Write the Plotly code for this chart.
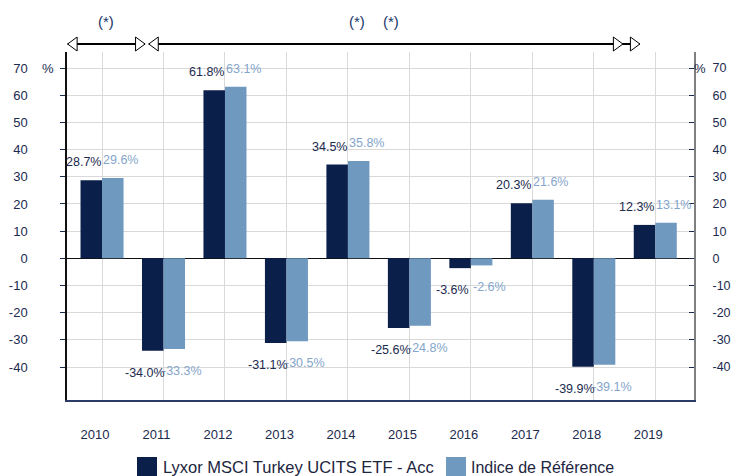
import plotly.graph_objects as go

years = [2010, 2011, 2012, 2013, 2014, 2015, 2016, 2017, 2018, 2019]
fund = [28.7, -34.0, 61.8, -31.1, 34.5, -25.6, -3.6, 20.3, -39.9, 12.3]
index_ref = [29.6, -33.3, 63.1, -30.5, 35.8, -24.8, -2.6, 21.6, -39.1, 13.1]
ytick_vals = [-40, -30, -20, -10, 0, 10, 20, 30, 40, 50, 60, 70]
fund_name = "Lyxor MSCI Turkey UCITS ETF - Acc"
index_name = "Indice de Référence"
star_marks = [2010.07, 2014.15, 2014.70]
# periods shown by arrows on top (start, end) in year units
periods = [(2009.44, 2010.70), (2010.76, 2018.75)]

DARK = "#0b1f4b"
LIGHT = "#7099c0"
DARK_TXT = "#1b2a4e"
LIGHT_TXT = "#84a5cb"
FONT = "Liberation Sans, Arial, sans-serif"

W, H = 734, 476
ML, MR, MT, MB = 67, 40, 52, 76
PW, PH = W - ML - MR, H - MT - MB


def px_x(px):
    return (px - ML) / PW


def px_y(py):
    return (H - MB - py) / PH


fig = go.Figure()
fig.add_trace(go.Bar(x=years, y=fund, name=fund_name, marker=dict(color=DARK, line=dict(width=0)),
                     showlegend=False))
fig.add_trace(go.Bar(x=years, y=index_ref, name=index_name, marker=dict(color=LIGHT, line=dict(width=0)),
                     showlegend=False))
# invisible trace so the right axis is drawn
fig.add_trace(go.Scatter(x=[years[0]], y=[0], yaxis="y2", mode="markers",
                         marker=dict(opacity=0), showlegend=False, hoverinfo="skip"))

annotations = []
# value labels: light first, dark on top
for vals, color, shift in [(index_ref, LIGHT_TXT, 18.5), (fund, DARK_TXT, -18.5)]:
    for yr, v in zip(years, vals):
        annotations.append(dict(
            x=yr, y=v, xref="x", yref="y", text=f"{v:.1f}%", showarrow=False,
            xanchor="center", yanchor="bottom" if v >= 0 else "top",
            xshift=shift, yshift=9 if v >= 0 else -13,
            font=dict(family=FONT, size=12.5, color=color)))

# % markers on axes
annotations.append(dict(x=px_x(47.5), y=70, xref="paper", yref="y", text="%", showarrow=False,
                        xanchor="center", yanchor="middle", font=dict(family=FONT, size=13, color=DARK_TXT)))
annotations.append(dict(x=px_x(700), y=70, xref="paper", yref="y", text="%", showarrow=False,
                        xanchor="center", yanchor="middle", font=dict(family=FONT, size=13, color=DARK_TXT)))

# (*) marks
for s in star_marks:
    annotations.append(dict(x=s, y=px_y(21), xref="x", yref="paper", text="(*)", showarrow=False,
                            xanchor="center", yanchor="middle", font=dict(family=FONT, size=15, color="#22386a")))

shapes = []
# arrows at the top
ya = px_y(44)
yt = px_y(37)
yb = px_y(51)
tri = 9.5 / 61.44
for (a, b) in periods:
    shapes.append(dict(type="line", xref="x", yref="paper", x0=a, x1=b, y0=ya, y1=ya,
                       line=dict(color="black", width=2)))
    shapes.append(dict(type="path", xref="x", yref="paper",
                       path=f"M {a} {ya} L {a + tri} {yt} L {a + tri} {yb} Z",
                       fillcolor="white", line=dict(color="black", width=1)))
    shapes.append(dict(type="path", xref="x", yref="paper",
                       path=f"M {b} {ya} L {b - tri} {yt} L {b - tri} {yb} Z",
                       fillcolor="white", line=dict(color="black", width=1)))
# extra right triangle before the final one
b2 = periods[-1][1] - 17 / 61.44
shapes.append(dict(type="path", xref="x", yref="paper",
                   path=f"M {b2} {ya} L {b2 - tri} {yt} L {b2 - tri} {yb} Z",
                   fillcolor="white", line=dict(color="black", width=1)))

# manual legend
for x0, tx, color, label, fs in [(137, 161, DARK, fund_name, 16.5), (446, 469, LIGHT, index_name, 16)]:
    shapes.append(dict(type="rect", xref="paper", yref="paper",
                       x0=px_x(x0), x1=px_x(x0 + 20), y0=px_y(457), y1=px_y(478),
                       fillcolor=color, line=dict(width=0)))
    annotations.append(dict(x=px_x(tx), y=px_y(467), xref="paper", yref="paper", text=label,
                            showarrow=False, xanchor="left", yanchor="middle",
                            font=dict(family=FONT, size=fs, color="#1c2540")))

fig.update_layout(
    width=W, height=H,
    margin=dict(l=ML, r=MR, t=MT, b=MB, pad=0, autoexpand=False),
    paper_bgcolor="white", plot_bgcolor="white",
    barmode="group", bargap=0.3, bargroupgap=0,
    font=dict(family=FONT, color=DARK_TXT),
    showlegend=False,
    annotations=annotations,
    shapes=shapes,
    xaxis=dict(
        range=[2009.43, 2019.63], tickvals=years, ticktext=[str(y) for y in years],
        showgrid=True, gridcolor="#d9d9d9", gridwidth=1,
        showline=True, linecolor="#2b3d66", linewidth=1.5,
        ticks="", ticklabelstandoff=22, ticklabelshift=-7,
        tickfont=dict(family=FONT, size=13, color=DARK_TXT),
        zeroline=False, fixedrange=True, automargin=False,
    ),
    yaxis=dict(
        range=[-52.1, 75.9], tickvals=ytick_vals, ticktext=[str(v) for v in ytick_vals],
        showgrid=True, gridcolor="#d9d9d9", gridwidth=1,
        zeroline=True, zerolinecolor="#111111", zerolinewidth=1,
        showline=True, linecolor="#111111", linewidth=1.5,
        ticks="outside", ticklen=5, tickcolor=DARK_TXT, tickwidth=1,
        ticklabelstandoff=30, automargin=False,
        tickfont=dict(family=FONT, size=13, color=DARK_TXT),
    ),
    yaxis2=dict(
        overlaying="y", side="right", anchor="x",
        range=[-52.1, 75.9], tickvals=ytick_vals, ticktext=[str(v) for v in ytick_vals],
        showgrid=False, zeroline=False,
        showline=True, linecolor="#808080", linewidth=2,
        ticks="inside", ticklen=5, tickcolor=DARK_TXT, tickwidth=1,
        ticklabelstandoff=14, automargin=False,
        tickfont=dict(family=FONT, size=12.5, color=DARK_TXT),
    ),
)

fig.write_html("out.html", config={"displayModeBar": False},
               post_script="document.body.style.margin='0';")
